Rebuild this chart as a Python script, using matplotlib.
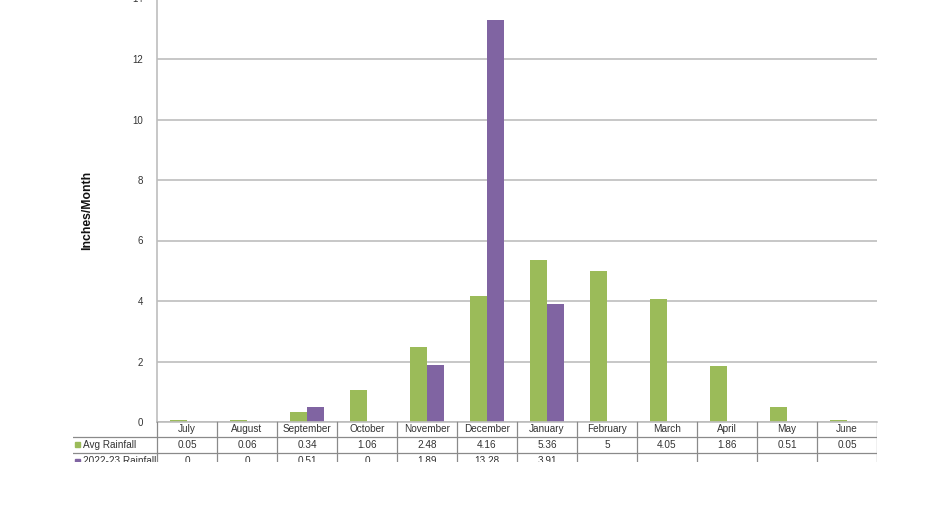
import matplotlib
matplotlib.use("Agg")
import matplotlib.pyplot as plt
import numpy as np
from matplotlib.patches import Rectangle

months = ["July", "August", "September", "October", "November", "December",
          "January", "February", "March", "April", "May", "June"]
avg_rain = [0.05, 0.06, 0.34, 1.06, 2.48, 4.16, 5.36, 5, 4.05, 1.86, 0.51, 0.05]
rain_2223 = [0, 0, 0.51, 0, 1.89, 13.28, 3.91, None, None, None, None, None]
avg_lbl = ["0.05", "0.06", "0.34", "1.06", "2.48", "4.16", "5.36", "5", "4.05", "1.86", "0.51", "0.05"]
r2223_lbl = ["0", "0", "0.51", "0", "1.89", "13.28", "3.91", "", "", "", "", ""]
series_names = ["Avg Rainfall", "2022-23 Rainfall"]
yticks = [0, 2, 4, 6, 8, 10, 12, 14]

GREEN = "#9bbb59"
PURPLE = "#8064a2"
GRID = "#bdbdbd"
TXT = "#333333"
FONT = "Liberation Sans"
W, H = 932, 524

fig = plt.figure(figsize=(W / 100, H / 100), dpi=100)
fig.patch.set_facecolor("white")

# plot area (pixel geometry)
x0, x1 = 157, 877
y_zero, y_top = 422, -1.5
ax = fig.add_axes([x0 / W, (H - y_zero) / H, (x1 - x0) / W, (y_zero - y_top) / H])
n = len(months)
x = np.arange(n)
bw = 0.283
ax.bar(x - bw / 2, avg_rain, width=bw, color=GREEN, zorder=3)
p_vals = [v if v is not None else 0 for v in rain_2223]
ax.bar(x + bw / 2, p_vals, width=bw, color=PURPLE, zorder=3)
ax.set_xlim(-0.5, n - 0.5)
ax.set_ylim(0, 14)
ax.set_yticks(yticks)
ax.set_yticklabels([str(t) for t in yticks], fontsize=7, family=FONT, color=TXT)
ax.tick_params(axis="y", length=0, pad=10)
ax.set_xticks([])
ax.yaxis.grid(True, color=GRID, linewidth=1.2, zorder=0)
for s in ["top", "right"]:
    ax.spines[s].set_visible(False)
ax.spines["left"].set_color(GRID)
ax.spines["left"].set_linewidth(1.2)
ax.spines["bottom"].set_color(GRID)
ax.spines["bottom"].set_linewidth(1.2)
ax.set_ylabel("Inches/Month", fontsize=8.8, family=FONT, fontweight="bold",
              labelpad=28, color="#111111")

# data table beneath the plot
tx0, ty_top, ty_bot = 73, 421, 462
tax = fig.add_axes([tx0 / W, (H - ty_bot) / H, (x1 - tx0) / W, (ty_bot - ty_top) / H])
tax.set_xlim(tx0, x1)
tax.set_ylim(ty_bot, ty_top)
tax.axis("off")
colw = (x1 - x0) / n
row_h = 16
lc = "#8a8a8a"
# vertical lines
for i in range(n + 1):
    xv = x0 + i * colw
    tax.plot([xv, xv], [ty_top, ty_bot + 5], color=lc, lw=0.9, clip_on=True)
# horizontal lines
for r in [1, 2]:
    yv = ty_top + r * row_h
    tax.plot([tx0, x1], [yv, yv], color=lc, lw=0.9, clip_on=True)
tax.plot([x0, x1], [ty_top, ty_top], color=GRID, lw=1.2, clip_on=True)

fs = 7.2
for i, m in enumerate(months):
    cx = x0 + (i + 0.5) * colw
    t = tax.text(cx, ty_top + row_h * 0.5, m, ha="center", va="center",
                 fontsize=fs, family=FONT, color=TXT)
    t.set_clip_on(True)
    t = tax.text(cx, ty_top + row_h * 1.5, avg_lbl[i], ha="center", va="center",
                 fontsize=fs, family=FONT, color=TXT)
    t.set_clip_on(True)
    t = tax.text(cx, ty_top + row_h * 2.5, r2223_lbl[i], ha="center", va="center",
                 fontsize=fs, family=FONT, color=TXT)
    t.set_clip_on(True)

for r, (name, col) in enumerate(zip(series_names, [GREEN, PURPLE])):
    yc = ty_top + row_h * (r + 1.5)
    sq = Rectangle((75, yc - 2.5), 5, 5, color=col, clip_on=True)
    tax.add_patch(sq)
    t = tax.text(83, yc, name, ha="left", va="center", fontsize=fs,
                 family=FONT, color=TXT)
    t.set_clip_on(True)

fig.savefig("out.png", dpi=100, facecolor="white")
